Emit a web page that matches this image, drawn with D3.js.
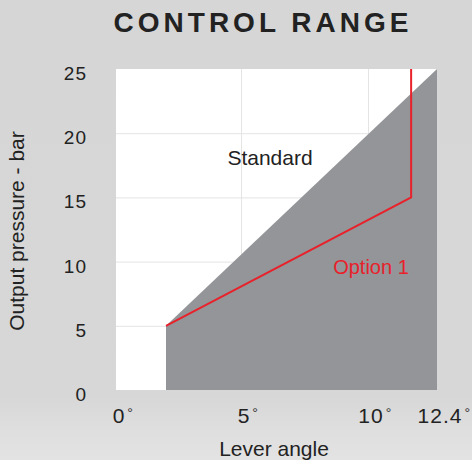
<!DOCTYPE html>
<html>
<head>
<meta charset="utf-8">
<script src="https://cdn.jsdelivr.net/npm/d3@7"></script>
<style>
  body { margin: 0; background: #d6d6d6; }
  svg { display: block; font-family: "Liberation Sans", Arial, sans-serif; }
</style>
</head>
<body>
<script>
// axis ticks
const angleTicks = [0, 5, 10, 12.4];
const pressureTicks = [0, 5, 10, 15, 20, 25];

// standard range (grey area), lever angle vs output pressure
const standardAngle = [2, 12.4];
const standardPressure = [5, 25];

// option 1 (red line)
const option1Angle = [2, 11.5, 11.5];
const option1Pressure = [5, 15, 25];

const W = 472, H = 460;

var svg = d3.select("body").append("svg")
    .attr("width", W)
    .attr("height", H);

// background with lighter band at the bottom
var defs = svg.append("defs");
var grad = defs.append("linearGradient")
    .attr("id", "bg")
    .attr("x1", 0).attr("y1", 0).attr("x2", 0).attr("y2", 1);
grad.append("stop").attr("offset", "0").attr("stop-color", "#d6d6d6");
grad.append("stop").attr("offset", "0.86").attr("stop-color", "#d7d7d7");
grad.append("stop").attr("offset", "0.93").attr("stop-color", "#dedede");
grad.append("stop").attr("offset", "1").attr("stop-color", "#e3e3e3");
svg.append("rect").attr("width", W).attr("height", H).attr("fill", "url(#bg)");

// scales (the drawing is not quite linear in angle, so a piecewise scale)
const x = d3.scaleLinear()
    .domain([0, 5, 10, 12.4])
    .range([116, 241, 368, 437]);
const y = d3.scaleLinear()
    .domain([0, 25])
    .range([390, 69]);

// plot area
svg.append("rect")
    .attr("x", x(0))
    .attr("y", y(25))
    .attr("width", x(12.4) - x(0))
    .attr("height", y(0) - y(25))
    .attr("fill", "#ffffff");

// gridlines
svg.selectAll(".hgrid")
    .data(pressureTicks.filter(d => d > 0 && d < 25))
    .enter().append("line")
    .attr("x1", x(0)).attr("x2", x(12.4))
    .attr("y1", d => y(d) + 0.5).attr("y2", d => y(d) + 0.5)
    .attr("stroke", "#e4e4e4");
svg.selectAll(".vgrid")
    .data(angleTicks.filter(d => d > 0 && d < 12.4))
    .enter().append("line")
    .attr("y1", y(0)).attr("y2", y(25))
    .attr("x1", d => x(d) + 0.5).attr("x2", d => x(d) + 0.5)
    .attr("stroke", "#e4e4e4");

// standard area
const stdPoints = standardAngle.map((a, i) => [a, standardPressure[i]]);
const area = d3.area()
    .x(d => x(d[0]))
    .y0(y(0))
    .y1(d => y(d[1]));
svg.append("path")
    .datum(stdPoints)
    .attr("d", area)
    .attr("fill", "#939598");

// option 1 line
const optPoints = option1Angle.map((a, i) => [a, option1Pressure[i]]);
const line = d3.line()
    .x(d => x(d[0]))
    .y(d => y(d[1]));
svg.append("path")
    .datum(optPoints)
    .attr("d", line)
    .attr("fill", "none")
    .attr("stroke", "#e8212b")
    .attr("stroke-width", 2);

// y tick labels
svg.selectAll(".ylab")
    .data(pressureTicks)
    .enter().append("text")
    .attr("x", 87)
    .attr("y", d => y(d) + 11)
    .attr("text-anchor", "end")
    .attr("font-size", 19)
    .attr("letter-spacing", 1)
    .attr("fill", "#222")
    .text(d => d);

// x tick labels, degree sign drawn small after the number
var xl = svg.selectAll(".xlab")
    .data(angleTicks)
    .enter().append("text")
    .attr("x", d => x(d) + 3)
    .attr("y", 423)
    .attr("text-anchor", "middle")
    .attr("font-size", 21)
    .attr("letter-spacing", 1)
    .attr("fill", "#222")
    .text(d => d);
xl.each(function(d) {
    var bb = this.getBBox();
    svg.append("text")
        .attr("x", Math.min(bb.x + bb.width + 2, W - 5))
        .attr("y", 418)
        .attr("font-size", 14)
        .attr("fill", "#333")
        .text("°");
});

// axis titles
svg.append("text")
    .attr("x", 274).attr("y", 456)
    .attr("text-anchor", "middle")
    .attr("font-size", 21)
    .attr("fill", "#222")
    .text("Lever angle");

svg.append("text")
    .attr("transform", "translate(24,231) rotate(-90)")
    .attr("text-anchor", "middle")
    .attr("font-size", 21)
    .attr("fill", "#222")
    .text("Output pressure - bar");

// title
svg.append("text")
    .attr("x", 261).attr("y", 32)
    .attr("text-anchor", "middle")
    .attr("font-size", 28)
    .attr("font-weight", "bold")
    .attr("textLength", 295)
    .attr("lengthAdjust", "spacing")
    .attr("fill", "#222")
    .text("CONTROL RANGE");

// series labels
svg.append("text")
    .attr("x", 270).attr("y", 165)
    .attr("text-anchor", "middle")
    .attr("font-size", 21)
    .attr("fill", "#222")
    .text("Standard");

svg.append("text")
    .attr("x", 371).attr("y", 274)
    .attr("text-anchor", "middle")
    .attr("font-size", 20)
    .attr("fill", "#e8212b")
    .text("Option 1");
</script>
</body>
</html>
